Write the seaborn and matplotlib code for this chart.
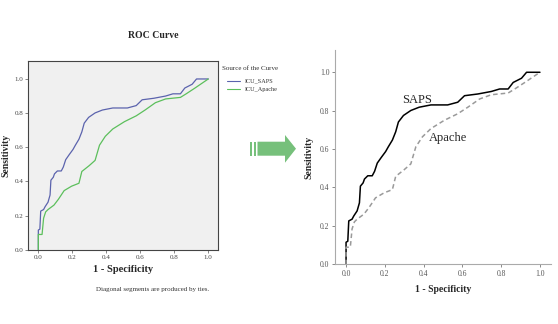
import matplotlib
matplotlib.use("Agg")
import matplotlib.pyplot as plt
import seaborn as sns
import pandas as pd
from matplotlib.patches import Polygon, Rectangle
from matplotlib.lines import Line2D

# ROC coordinates (1 - specificity, sensitivity) for each score
saps_fpr = [0.0, 0.0, 0.009, 0.014, 0.031, 0.040, 0.057, 0.069, 0.074, 0.088, 0.095, 0.112,
            0.135, 0.147, 0.161, 0.182, 0.204, 0.218, 0.239, 0.256, 0.270, 0.296, 0.334,
            0.377, 0.438, 0.524, 0.576, 0.611, 0.680, 0.749, 0.792, 0.836, 0.862, 0.905,
            0.931, 1.0]
saps_tpr = [0.0, 0.115, 0.120, 0.226, 0.235, 0.252, 0.278, 0.320, 0.407, 0.424, 0.444, 0.461,
            0.461, 0.484, 0.527, 0.557, 0.587, 0.612, 0.647, 0.690, 0.741, 0.775, 0.801,
            0.818, 0.830, 0.830, 0.844, 0.878, 0.887, 0.900, 0.913, 0.913, 0.947, 0.969,
            1.0, 1.0]
apache_fpr = [0.0, 0.0, 0.022, 0.031, 0.043, 0.057, 0.092, 0.118, 0.152, 0.196, 0.239, 0.256,
              0.299, 0.334, 0.360, 0.394, 0.438, 0.507, 0.576, 0.628, 0.689, 0.749, 0.836,
              0.870, 0.922, 1.0]
apache_tpr = [0.0, 0.089, 0.089, 0.184, 0.221, 0.235, 0.261, 0.295, 0.346, 0.372, 0.389, 0.458,
              0.492, 0.523, 0.612, 0.664, 0.707, 0.750, 0.784, 0.818, 0.861, 0.883, 0.892,
              0.913, 0.947, 1.0]

tick_values = [0.0, 0.2, 0.4, 0.6, 0.8, 1.0]
tick_labels = ["0.0", "0.2", "0.4", "0.6", "0.8", "1.0"]
legend_labels = ["ICU_SAPS", "ICU_Apache"]
short_labels = ["SAPS", "Apache"]

saps = pd.DataFrame({"fpr": saps_fpr, "tpr": saps_tpr})
apache = pd.DataFrame({"fpr": apache_fpr, "tpr": apache_tpr})

sns.set_style("white")
plt.rcParams["font.family"] = ["Liberation Serif", "DejaVu Serif"]

W, H = 558, 324
fig = plt.figure(figsize=(W / 100, H / 100), dpi=100)


def fx(px):
    return px / W


def fy(py):
    return 1 - py / H


# ---------- left panel: original ROC output ----------
axl = fig.add_axes([fx(28.3), fy(250), fx(218.3) - fx(28.3), fy(60.7) - fy(250)])
axl.set_facecolor("#f0f0f0")
sns.lineplot(data=saps, x="fpr", y="tpr", ax=axl, sort=False, estimator=None,
             color="#5b63ad", linewidth=0.9)
sns.lineplot(data=apache, x="fpr", y="tpr", ax=axl, sort=False, estimator=None,
             color="#5cbf5c", linewidth=0.9)
axl.set_xlim(-0.059, 1.059)
axl.set_ylim(-0.002, 1.107)
axl.set_xticks(tick_values, tick_labels)
axl.set_yticks(tick_values, tick_labels)
axl.tick_params(labelsize=5, length=2, width=0.5, color="#555555",
                labelcolor="#444444", pad=1.5, bottom=True, left=True)
for s in axl.spines.values():
    s.set_color("#444444")
    s.set_linewidth(0.8)
axl.set_xlabel("1 - Specificity", fontsize=7.5, fontweight="bold", labelpad=4)
axl.set_ylabel("Sensitivity", fontsize=7, fontweight="bold", labelpad=3)

fig.text(fx(153), fy(36), "ROC Curve", fontsize=7, fontweight="bold",
         ha="center", va="center")
fig.text(fx(153), fy(289), "Diagonal segments are produced by ties.", fontsize=5,
         ha="center", va="center", color="#333333")

# legend beside the left plot
fig.text(fx(222), fy(68.7), "Source of the Curve", fontsize=5, ha="left",
         va="center", color="#333333")
for yy, lab, col in [(81, legend_labels[0], "#5b63ad"), (89, legend_labels[1], "#5cbf5c")]:
    fig.add_artist(Line2D([fx(227), fx(240)], [fy(yy), fy(yy)], color=col,
                          linewidth=0.8, transform=fig.transFigure))
    fig.text(fx(245), fy(yy), lab, fontsize=4.5, ha="left", va="center",
             color="#333333")

# ---------- arrow between the panels ----------
arrow_color = "#76c07b"
for x0 in (250, 253.8):
    fig.add_artist(Rectangle((fx(x0), fy(155.7)), fx(2), fy(141.7) - fy(155.7),
                             transform=fig.transFigure, color=arrow_color, lw=0))
fig.add_artist(Polygon([
    (fx(257.5), fy(141.7)), (fx(285), fy(141.7)), (fx(285), fy(135)),
    (fx(296), fy(148.7)), (fx(285), fy(162.7)), (fx(285), fy(155.7)),
    (fx(257.5), fy(155.7))],
    closed=True, transform=fig.transFigure, color=arrow_color, lw=0))

# ---------- right panel: redrawn ROC ----------
axr = fig.add_axes([fx(335), fy(264.3), fx(551) - fx(335), fy(50) - fy(264.3)])
sns.lineplot(data=saps, x="fpr", y="tpr", ax=axr, sort=False, estimator=None,
             color="black", linewidth=1.1)
sns.lineplot(data=apache, x="fpr", y="tpr", ax=axr, sort=False, estimator=None,
             color="#9a9a9a", linewidth=1.1, linestyle=(0, (3, 2)))
axr.set_xlim(-0.057, 1.057)
axr.set_ylim(0, 1.116)
axr.set_xticks(tick_values, tick_labels)
axr.set_yticks(tick_values, tick_labels)
axr.tick_params(labelsize=5.5, length=2.5, width=0.6, color="#777777",
                labelcolor="#555555", pad=1.5, bottom=True, left=True)
for side in ("top", "right"):
    axr.spines[side].set_visible(False)
for side in ("left", "bottom"):
    axr.spines[side].set_color("#aaaaaa")
    axr.spines[side].set_linewidth(0.8)
axr.set_xlabel("1 - Specificity", fontsize=7, fontweight="bold", labelpad=5)
axr.set_ylabel("Sensitivity", fontsize=7, fontweight="bold", labelpad=5)
axr.text(0.366, 0.856, short_labels[0], fontsize=9, ha="center", va="center")
axr.text(0.526, 0.658, short_labels[1], fontsize=9, ha="center", va="center")

fig.savefig("out.png", dpi=100)
